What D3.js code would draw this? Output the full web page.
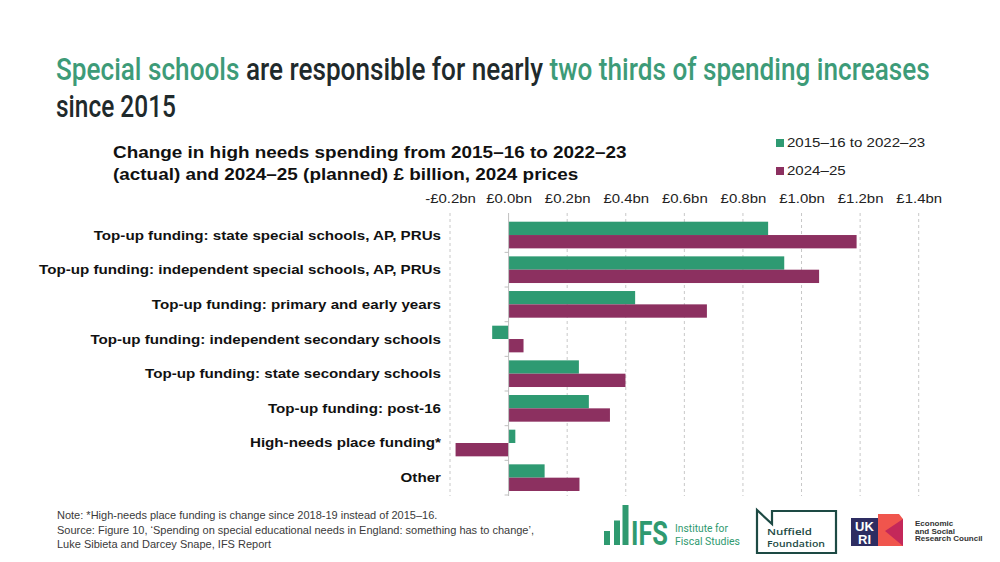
<!DOCTYPE html>
<html><head><meta charset="utf-8">
<script src="https://cdn.jsdelivr.net/npm/d3@7"></script>
<style>body{margin:0;background:#fff}svg{display:block}</style>
</head><body>
<svg id="c" width="1000" height="562"></svg>
<script>
const categories = [
  "Top-up funding: state special schools, AP, PRUs",
  "Top-up funding: independent special schools, AP, PRUs",
  "Top-up funding: primary and early years",
  "Top-up funding: independent secondary schools",
  "Top-up funding: state secondary schools",
  "Top-up funding: post-16",
  "High-needs place funding*",
  "Other"
];
const seriesNames = ["2015–16 to 2022–23", "2024–25"];
const actualChange = [0.886, 0.941, 0.432, -0.056, 0.240, 0.274, 0.023, 0.123];
const plannedChange = [1.188, 1.060, 0.677, 0.051, 0.399, 0.346, -0.181, 0.242];
const tickValues = [-0.2, 0, 0.2, 0.4, 0.6, 0.8, 1.0, 1.2, 1.4];
const tickLabels = ["-£0.2bn","£0.0bn","£0.2bn","£0.4bn","£0.6bn","£0.8bn","£1.0bn","£1.2bn","£1.4bn"];

const colors = {"2015–16 to 2022–23": "#2e9a72", "2024–25": "#8c3060"};
const svg = d3.select("#c");
const FONT = "'Liberation Sans', Arial, sans-serif";
const TITLEFONT = "Roboto, 'Liberation Sans', sans-serif";
const STRETCH = 1.15;

function scaleAround(sel, sx) {
  sel.each(function() {
    const s = d3.select(this);
    const x = +s.attr("x") || 0, y = +s.attr("y") || 0;
    s.attr("transform", `translate(${x},${y}) scale(${sx},1) translate(${-x},${-y})`);
  });
}
function fitText(sel, width) {
  const w = sel.node().getComputedTextLength();
  scaleAround(sel, width / w);
}

// Title
const t1 = svg.append("text").attr("x", 56).attr("y", 80)
  .style("font-family", TITLEFONT).style("font-size", "32px").style("font-weight", "500");
t1.append("tspan").attr("fill", "#3d9b78").text("Special schools ");
t1.append("tspan").attr("fill", "#1f2a2c").text("are responsible for nearly ");
t1.append("tspan").attr("fill", "#3d9b78").text("two thirds of spending increases");
fitText(t1, 874);
const t2 = svg.append("text").attr("x", 56).attr("y", 117)
  .style("font-family", TITLEFONT).style("font-size", "32px").style("font-weight", "500")
  .attr("fill", "#1f2a2c").text("since 2015");
fitText(t2, 120);

// Subtitle
const sub = svg.append("g").style("font-family", FONT).style("font-weight", "bold")
  .style("font-size", "16.5px").attr("fill", "#111");
const s1 = sub.append("text").attr("x", 113).attr("y", 158).text("Change in high needs spending from 2015–16 to 2022–23");
const s2 = sub.append("text").attr("x", 113).attr("y", 180).text("(actual) and 2024–25 (planned) £ billion, 2024 prices");
const subScale = 514 / s1.node().getComputedTextLength();
scaleAround(s1, subScale); scaleAround(s2, subScale);

// Legend
const leg = svg.append("g").style("font-family", FONT).style("font-size", "13px");
seriesNames.forEach((s, i) => {
  const y = 143 + i * 28;
  leg.append("rect").attr("x", 776).attr("y", y - 4).attr("width", 8).attr("height", 8).attr("fill", colors[s]);
  const t = leg.append("text").attr("x", 787).attr("y", y + 4.5).attr("fill", "#222").text(s);
  scaleAround(t, 1.16);
});

// Scales
const x = d3.scaleLinear().domain([-0.2, 1.4]).range([450, 918.7]);
const y = d3.scaleBand().domain(categories).range([217.7, 495]).padding(0);
const yInner = d3.scaleBand().domain(seriesNames).range([0, y.bandwidth()]).paddingInner(0).paddingOuter(0.3);

// Gridlines
const gridTop = 213, gridBottom = 496;
svg.append("g").selectAll("line").data(tickValues.filter(v => v !== 0)).join("line")
  .attr("x1", d => x(d)).attr("x2", d => x(d)).attr("y1", gridTop).attr("y2", gridBottom)
  .attr("stroke", "#c8c8c8").attr("stroke-width", 1).attr("stroke-dasharray", "3,3");

// Top axis labels
const xAxis = d3.axisTop(x).tickValues(tickValues).tickFormat((d, i) => tickLabels[i]).tickSize(0).tickPadding(0);
const gx = svg.append("g").attr("transform", "translate(0,203)").call(xAxis);
gx.select(".domain").remove();
gx.selectAll("text").attr("dy", 0).style("font-family", FONT).style("font-size", "13px").attr("fill", "#222")
  .attr("transform", `scale(${STRETCH},1)`);

// Bars
const rows = categories.map((c, i) => ({cat: c, vals: [
  {s: seriesNames[0], v: actualChange[i]}, {s: seriesNames[1], v: plannedChange[i]}]}));
const gBars = svg.append("g");
gBars.selectAll("g").data(rows).join("g")
  .attr("transform", d => `translate(0,${y(d.cat)})`)
  .selectAll("rect").data(d => d.vals).join("rect")
  .attr("x", d => x(Math.min(0, d.v))).attr("width", d => Math.abs(x(d.v) - x(0)))
  .attr("y", d => yInner(d.s)).attr("height", yInner.bandwidth())
  .attr("fill", d => colors[d.s]);

// Category axis at zero
const gy = svg.append("g").attr("transform", `translate(${x(0)},0)`);
gy.append("line").attr("x1", 0).attr("x2", 0).attr("y1", gridTop).attr("y2", gridBottom).attr("stroke", "#bfbfbf");
const bounds = categories.map(c => y(c)).concat([y.range()[1]]);
gy.selectAll("line.tk").data(bounds.slice(1)).join("line").attr("class", "tk")
  .attr("x1", -4).attr("x2", 0).attr("y1", d => d).attr("y2", d => d).attr("stroke", "#bfbfbf");

// Category labels
const cl = svg.append("g").selectAll("text").data(categories).join("text")
  .attr("x", 441).attr("y", d => y(d) + y.bandwidth() / 2 + 4.5)
  .attr("text-anchor", "end").style("font-family", FONT).style("font-weight", "bold")
  .style("font-size", "13px").attr("fill", "#111").text(d => d);
scaleAround(cl, 1.166);

// Notes
const notes = ["Note: *High-needs place funding is change since 2018-19 instead of 2015–16.",
  "Source: Figure 10, ‘Spending on special educational needs in England: something has to change’,",
  "Luke Sibieta and Darcey Snape, IFS Report"];
svg.append("g").selectAll("text").data(notes).join("text")
  .attr("x", 57).attr("y", (d, i) => 519 + i * 14.5)
  .style("font-family", FONT).style("font-size", "11px").attr("fill", "#3a3a3a").text(d => d);

// IFS logo
const ifs = svg.append("g").attr("fill", "#2f9a70");
ifs.append("rect").attr("x", 604).attr("y", 531).attr("width", 6).attr("height", 14);
ifs.append("rect").attr("x", 614).attr("y", 520.5).attr("width", 6).attr("height", 24.5);
ifs.append("rect").attr("x", 622.5).attr("y", 505).attr("width", 6).attr("height", 40);
const ifsT = ifs.append("text").attr("x", 631).attr("y", 545).style("font-family", TITLEFONT)
  .style("font-weight", "bold").style("font-size", "33px").text("IFS");
fitText(ifsT, 37);
const ifs1 = ifs.append("text").attr("x", 675).attr("y", 532.5).style("font-family", TITLEFONT).style("font-size", "11.5px").text("Institute for");
fitText(ifs1, 53);
const ifs2 = ifs.append("text").attr("x", 675).attr("y", 545.5).style("font-family", TITLEFONT).style("font-size", "11.5px").text("Fiscal Studies");
fitText(ifs2, 65);

// Nuffield logo
const nf = svg.append("g");
nf.append("path").attr("d", "M757,553 L757,510 L772,524 L772,511 L836,511 L836,553 Z")
  .attr("fill", "none").attr("stroke", "#1d4a44").attr("stroke-width", 2.2);
const nf1 = nf.append("text").attr("x", 767).attr("y", 535).style("font-family", "'Open Sans', sans-serif")
  .style("font-weight", "600").style("font-size", "9.5px").attr("fill", "#1d4a44").text("Nuffield");
const nf2 = nf.append("text").attr("x", 767).attr("y", 547.5).style("font-family", "'Open Sans', sans-serif")
  .style("font-weight", "600").style("font-size", "9.5px").attr("fill", "#1d4a44").text("Foundation");
fitText(nf2, 58);
fitText(nf1, 45);

// UKRI / ESRC logo
const uk = svg.append("g");
uk.append("rect").attr("x", 851).attr("y", 518).attr("width", 27.5).attr("height", 28).attr("fill", "#2e2d62");
uk.append("text").attr("x", 864.5).attr("y", 531).attr("text-anchor", "middle").style("font-family", FONT)
  .style("font-weight", "bold").style("font-size", "13px").attr("fill", "#fff").text("UK");
uk.append("text").attr("x", 864.5).attr("y", 544).attr("text-anchor", "middle").style("font-family", FONT)
  .style("font-weight", "bold").style("font-size", "13px").attr("fill", "#fff").text("RI");
uk.append("path").attr("d", "M878,514 L899,514 L903,519 L903,546 L878,546 Z").attr("fill", "#f0554d");
uk.append("path").attr("d", "M903,519 L885,531 L903,546 Z").attr("fill", "#c4285a");
const esrc = ["Economic", "and Social", "Research Council"];
uk.selectAll("text.e").data(esrc).join("text").attr("class", "e")
  .attr("x", 915).attr("y", (d, i) => 526 + i * 7.5)
  .style("font-family", FONT).style("font-weight", "bold").style("font-size", "8px").attr("fill", "#333").text(d => d);
</script>
</body></html>
